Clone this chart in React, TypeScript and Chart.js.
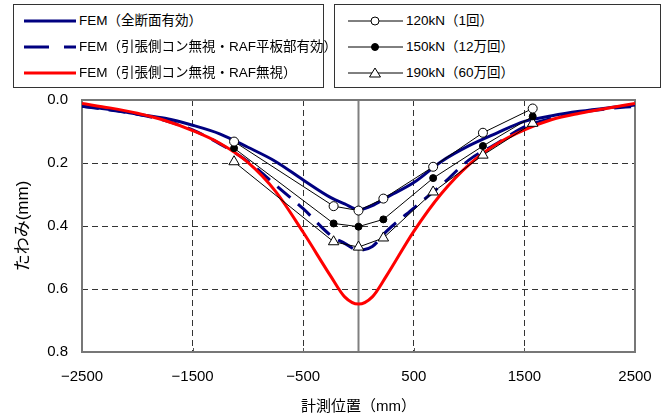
import React, { useEffect, useRef } from 'react';
import { Chart, registerables } from 'chart.js';

Chart.register(...registerables);

// ---- data ----
const femX = [-2500, -2250, -2000, -1750, -1500, -1250, -1000, -750, -500, -250, -125, 0, 125, 250, 500, 750, 1000, 1250, 1500, 1750, 2000, 2250, 2500];
const femFull = [0.02, 0.03, 0.045, 0.058, 0.08, 0.108, 0.15, 0.195, 0.254, 0.31, 0.33, 0.348, 0.335, 0.31, 0.262, 0.195, 0.145, 0.105, 0.068, 0.05, 0.036, 0.025, 0.016];
const femNoConRaf = [0.02, 0.032, 0.045, 0.065, 0.095, 0.14, 0.195, 0.27, 0.345, 0.43, 0.455, 0.477, 0.465, 0.418, 0.343, 0.27, 0.19, 0.138, 0.085, 0.058, 0.04, 0.028, 0.02];
const femNoConNoRaf = [0.011, 0.025, 0.042, 0.065, 0.097, 0.138, 0.198, 0.29, 0.42, 0.56, 0.625, 0.648, 0.625, 0.56, 0.417, 0.297, 0.205, 0.14, 0.095, 0.062, 0.042, 0.026, 0.011];

const testX = [-1125, -225, 0, 225, 675, 1125, 1575];
const test120 = [0.132, 0.337, 0.351, 0.313, 0.212, 0.104, 0.027];
const test150 = [0.153, 0.392, 0.402, 0.379, 0.248, 0.146, 0.052];
const test190 = [0.196, 0.45, 0.467, 0.438, 0.292, 0.175, 0.074];

const xTicks = [-2500, -1500, -500, 500, 1500, 2500];
const yTicks = [0, 0.2, 0.4, 0.6, 0.8];

const femLabels = ['FEM（全断面有効）', 'FEM（引張側コン無視・RAF平板部有効）', 'FEM（引張側コン無視・RAF無視）'];
const testLabels = ['120kN（1回）', '150kN（12万回）', '190kN（60万回）'];
const xTitle = '計測位置（mm）';
const yTitle = 'たわみ(mm)';

const NAVY = '#000080';
const RED = '#ff0000';
const FONT = '"Liberation Sans", "Noto Sans CJK JP", sans-serif';

const pts = (xs: number[], ys: number[]) => xs.map((x, i) => ({ x, y: ys[i] }));

const framePlugin = {
  id: 'frame',
  beforeDatasetsDraw(chart: any) {
    const { ctx, chartArea, scales } = chart;
    const { left, right, top, bottom } = chartArea;
    const xs = scales.x;
    ctx.save();
    const x0 = xs.getPixelForValue(0);
    ctx.strokeStyle = '#808080';
    ctx.lineWidth = 2;
    ctx.beginPath();
    ctx.moveTo(x0, top);
    ctx.lineTo(x0, bottom);
    ctx.stroke();
    ctx.strokeStyle = '#555';
    ctx.lineWidth = 1;
    xs.ticks.forEach((t: any) => {
      const px = Math.round(xs.getPixelForValue(t.value)) + 0.5;
      ctx.beginPath();
      ctx.moveTo(px, bottom);
      ctx.lineTo(px, bottom - 4);
      ctx.stroke();
    });
    ctx.strokeStyle = '#777';
    ctx.lineWidth = 2;
    ctx.strokeRect(left, top, right - left, bottom - top);
    ctx.restore();
  },
};

function Legend() {
  const rowTops = [16, 42, 68];
  const textStyle: React.CSSProperties = {
    position: 'absolute',
    fontFamily: FONT,
    fontSize: 13.5,
    color: '#000',
    whiteSpace: 'nowrap',
    lineHeight: '16px',
  };
  return (
    <>
      <div style={{ position: 'absolute', left: 13, top: 4, width: 309, height: 82, border: '1px solid #333', background: '#fff' }}>
        <svg style={{ position: 'absolute', left: 0, top: 0 }} width={309} height={82}>
          <line x1={10} y1={rowTops[0]} x2={62} y2={rowTops[0]} stroke={NAVY} strokeWidth={3} />
          <line x1={10} y1={rowTops[1]} x2={62} y2={rowTops[1]} stroke={NAVY} strokeWidth={3} strokeDasharray="25 15" />
          <line x1={10} y1={rowTops[2]} x2={62} y2={rowTops[2]} stroke={RED} strokeWidth={3} />
        </svg>
        {femLabels.map((l, i) => (
          <div key={l} style={{ ...textStyle, left: 65, top: rowTops[i] - 8 }}>{l}</div>
        ))}
      </div>
      <div style={{ position: 'absolute', left: 334, top: 4, width: 325, height: 82, border: '1px solid #333', background: '#fff' }}>
        <svg style={{ position: 'absolute', left: 0, top: 0 }} width={325} height={82}>
          <line x1={13} y1={rowTops[0]} x2={68} y2={rowTops[0]} stroke="#000" strokeWidth={1} />
          <circle cx={40} cy={rowTops[0]} r={4} fill="#fff" stroke="#000" strokeWidth={1} />
          <line x1={13} y1={rowTops[1]} x2={68} y2={rowTops[1]} stroke="#000" strokeWidth={1} />
          <circle cx={40} cy={rowTops[1]} r={3.5} fill="#000" stroke="#000" strokeWidth={1} />
          <line x1={13} y1={rowTops[2]} x2={68} y2={rowTops[2]} stroke="#000" strokeWidth={1} />
          <polygon points={`${40},${rowTops[2] - 5} ${45.5},${rowTops[2] + 4} ${34.5},${rowTops[2] + 4}`} fill="#fff" stroke="#000" strokeWidth={1} />
        </svg>
        {testLabels.map((l, i) => (
          <div key={l} style={{ ...textStyle, left: 71, top: rowTops[i] - 8 }}>{l}</div>
        ))}
      </div>
    </>
  );
}

export default function App() {
  const ref = useRef<HTMLCanvasElement | null>(null);

  useEffect(() => {
    document.body.style.margin = '0';
    const canvas = ref.current;
    if (!canvas) return;
    const hideEdges = (edges: number[], color: string) => (c: any) =>
      c.tick && edges.includes(c.tick.value) ? 'rgba(0,0,0,0)' : color;

    const chart = new Chart(canvas, {
      type: 'line',
      data: {
        datasets: [
          {
            label: testLabels[0],
            data: pts(testX, test120),
            borderColor: '#000',
            borderWidth: 1,
            pointStyle: 'circle',
            pointRadius: 4.5,
            pointBackgroundColor: '#fff',
            pointBorderColor: '#000',
            pointBorderWidth: 1,
            tension: 0,
          },
          {
            label: testLabels[1],
            data: pts(testX, test150),
            borderColor: '#000',
            borderWidth: 1,
            pointStyle: 'circle',
            pointRadius: 3.5,
            pointBackgroundColor: '#000',
            pointBorderColor: '#000',
            pointBorderWidth: 1,
            tension: 0,
          },
          {
            label: testLabels[2],
            data: pts(testX, test190),
            borderColor: '#000',
            borderWidth: 1,
            pointStyle: 'triangle',
            pointRadius: 6,
            pointBackgroundColor: '#fff',
            pointBorderColor: '#000',
            pointBorderWidth: 1,
            tension: 0,
          },
          {
            label: femLabels[2],
            data: pts(femX, femNoConNoRaf),
            borderColor: RED,
            borderWidth: 3,
            pointRadius: 0,
            cubicInterpolationMode: 'monotone',
          },
          {
            label: femLabels[1],
            data: pts(femX, femNoConRaf),
            borderColor: NAVY,
            borderWidth: 3,
            borderDash: [17, 10],
            pointRadius: 0,
            cubicInterpolationMode: 'monotone',
          },
          {
            label: femLabels[0],
            data: pts(femX, femFull),
            borderColor: NAVY,
            borderWidth: 3,
            pointRadius: 0,
            cubicInterpolationMode: 'monotone',
          },
        ],
      },
      options: {
        animation: false,
        responsive: false,
        layout: { padding: { top: 100, right: 35, bottom: 2, left: 0 } },
        plugins: { legend: { display: false }, tooltip: { enabled: false } },
        scales: {
          x: {
            type: 'linear',
            min: -2500,
            max: 2500,
            afterFit: (s: any) => { s.height = 65; },
            afterBuildTicks: (s: any) => { s.ticks = xTicks.map((v) => ({ value: v })); },
            ticks: {
              autoSkip: false,
              maxRotation: 0,
              padding: 16,
              color: '#000',
              font: { family: FONT, size: 15 },
              callback: (v: any) => (v < 0 ? '\u2212' + Math.abs(v) : String(v)),
            },
            grid: { color: hideEdges([-2500, 2500], '#333'), lineWidth: 1, drawTicks: false },
            border: { display: false, dash: [6, 4] },
            title: { display: true, text: xTitle, color: '#000', font: { family: FONT, size: 15 }, padding: { top: 0, bottom: 1 } },
          },
          y: {
            type: 'linear',
            reverse: true,
            min: 0,
            max: 0.8,
            afterFit: (s: any) => { s.width = 82; },
            afterBuildTicks: (s: any) => { s.ticks = yTicks.map((v) => ({ value: v })); },
            ticks: {
              padding: 14,
              color: '#000',
              font: { family: FONT, size: 15 },
              callback: (v: any) => Number(v).toFixed(1),
            },
            grid: { color: hideEdges([0, 0.8], '#333'), lineWidth: 1, drawTicks: false },
            border: { display: false, dash: [6, 4] },
            title: { display: true, text: yTitle, color: '#000', font: { family: FONT, size: 17 }, padding: { top: 13, bottom: 0 } },
          },
        },
      },
      plugins: [framePlugin],
    } as any);
    return () => chart.destroy();
  }, []);

  return (
    <div style={{ position: 'relative', width: 670, height: 419, background: '#fff' }}>
      <canvas ref={ref} width={670} height={419} style={{ position: 'absolute', left: 0, top: 0 }} />
      <Legend />
    </div>
  );
}
